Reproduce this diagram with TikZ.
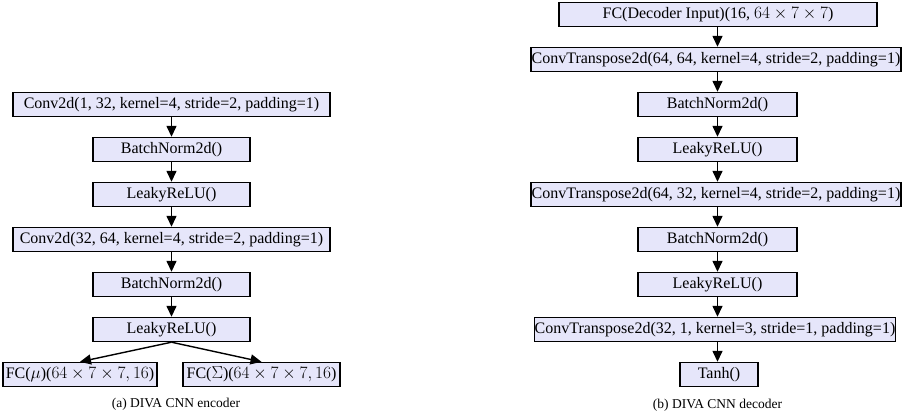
\documentclass[tikz,border=0pt]{standalone}
\usepackage{fontspec}
\setmainfont{Liberation Serif}
\usetikzlibrary{arrows.meta}
\definecolor{layerfill}{RGB}{230,230,250}
\tikzset{
  layer/.style={draw=black, fill=layerfill, line width=1.4pt, rectangle,
    minimum height=24pt, inner sep=0pt, font=\fontsize{16}{19}\selectfont},
  flow/.style={line width=1.4pt, -{Triangle[width=10pt,length=11pt]}},
  caption/.style={font=\fontsize{13.5}{16}\selectfont, inner sep=0pt}
}
\begin{document}
\begin{tikzpicture}[x=1pt, y=-1pt]
\useasboundingbox (0,0) rectangle (902,412);

% encoder column
\node[layer, minimum width=317pt] (e1) at (171.5,104.5) {Conv2d(1, 32, kernel=4, stride=2, padding=1)};
\node[layer, minimum width=157pt] (e2) at (171.5,149.5) {BatchNorm2d()};
\node[layer, minimum width=157pt] (e3) at (171.5,194.5) {LeakyReLU()};
\node[layer, minimum width=317pt] (e4) at (171.5,239.5) {Conv2d(32, 64, kernel=4, stride=2, padding=1)};
\node[layer, minimum width=157pt] (e5) at (171.5,284.5) {BatchNorm2d()};
\node[layer, minimum width=157pt] (e6) at (171.5,329.5) {LeakyReLU()};
\node[layer, minimum width=154pt] (fmu) at (80,374.5) {FC($\mu$)($64\times 7\times 7, 16$)};
\node[layer, minimum width=157pt] (fsig) at (261.5,374.5) {FC($\Sigma$)($64\times 7\times 7, 16$)};
\node[caption] (capa) at (176,404) {(a) DIVA CNN encoder};

\draw[flow] (e1) -- (e2);
\draw[flow] (e2) -- (e3);
\draw[flow] (e3) -- (e4);
\draw[flow] (e4) -- (e5);
\draw[flow] (e5) -- (e6);
\draw[flow] (e6.south) -- (fmu.north);
\draw[flow] (e6.south) -- (fsig.north);

% decoder column
\node[layer, minimum width=318pt] (d1) at (718,14.5) {FC(Decoder Input)(16, $64\times 7\times 7$)};
\node[layer, minimum width=370pt] (d2) at (716,59.5) {ConvTranspose2d(64, 64, kernel=4, stride=2, padding=1)};
\node[layer, minimum width=159pt] (d3) at (717.5,104.5) {BatchNorm2d()};
\node[layer, minimum width=159pt] (d4) at (717.5,149.5) {LeakyReLU()};
\node[layer, minimum width=370pt] (d5) at (716,194.5) {ConvTranspose2d(64, 32, kernel=4, stride=2, padding=1)};
\node[layer, minimum width=159pt] (d6) at (717.5,239.5) {BatchNorm2d()};
\node[layer, minimum width=159pt] (d7) at (717.5,284.5) {LeakyReLU()};
\node[layer, minimum width=360pt] (d8) at (715,329.5) {ConvTranspose2d(32, 1, kernel=3, stride=1, padding=1)};
\node[layer, minimum width=78pt] (d9) at (719,374.5) {Tanh()};
\node[caption] (capb) at (717.5,405) {(b) DIVA CNN decoder};

\draw[flow] (d1.south -| d3) -- (d2.north -| d3);
\draw[flow] (d2.south -| d3) -- (d3.north);
\draw[flow] (d3) -- (d4);
\draw[flow] (d4.south) -- (d5.north -| d4);
\draw[flow] (d5.south -| d6) -- (d6.north);
\draw[flow] (d6) -- (d7);
\draw[flow] (d7.south) -- (d8.north -| d7);
\draw[flow] (d8.south -| d7) -- (d9.north -| d7);
\end{tikzpicture}
\end{document}
